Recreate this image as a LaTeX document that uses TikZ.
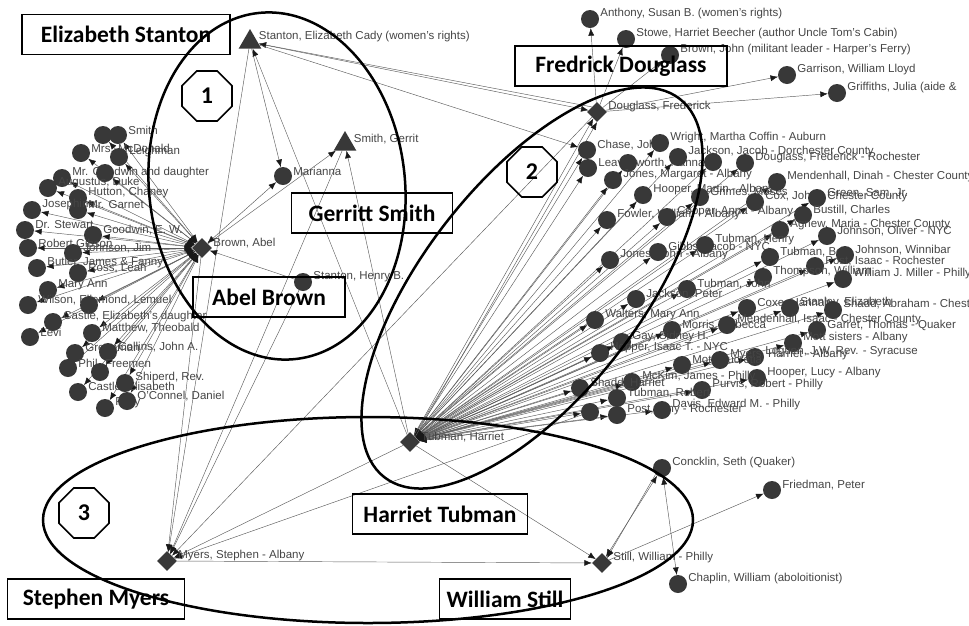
\documentclass[tikz,border=0pt]{standalone}
\usepackage{fontspec}
\setmainfont{Liberation Sans}
\newfontfamily\boxfont{Carlito}
\usetikzlibrary{shapes.geometric,arrows.meta,backgrounds}
\definecolor{nodegray}{gray}{0.22}
\definecolor{tiegray}{gray}{0.36}
\definecolor{lblgray}{gray}{0.27}
\tikzset{
  pers/.style={circle,fill=nodegray,minimum size=18pt,inner sep=0pt},
  hub/.style={diamond,fill=nodegray,minimum width=20pt,minimum height=20pt,inner sep=0pt},
  lead/.style={regular polygon,regular polygon sides=3,fill=nodegray,minimum size=26pt,inner sep=0pt},
  lbl/.style={font=\fontsize{11.5}{12}\selectfont,text=lblgray,inner sep=1pt,yshift=5pt},
  tie/.style={draw=tiegray,line width=0.45pt,-{Latex[length=7.5pt,width=6pt,color=black!90]}},
  tietwo/.style={draw=tiegray,line width=0.45pt,{Latex[length=7.5pt,width=6pt,color=black!90]}-{Latex[length=7.5pt,width=6pt,color=black!90]}},
  namebox/.style={draw,line width=1.7pt,font=\boxfont\bfseries\fontsize{23.5}{25}\selectfont,minimum height=40pt,inner sep=0pt},
  badge/.style={regular polygon,regular polygon sides=8,draw,line width=1.7pt,minimum size=54pt,inner sep=0pt,font=\boxfont\bfseries\fontsize{24}{26}\selectfont},
  ring/.style={line width=2.5pt}
}
\begin{document}
\begin{tikzpicture}[x=1pt,y=-1pt]
\useasboundingbox (0,0) rectangle (969,625);

% main people
\node[lead,label={[lbl]right:{Stanton, Elizabeth Cady (women's rights)}}] (stanton) at (250,42) {};
\node[lead,label={[lbl]right:{Smith, Gerrit}}] (smith) at (345,144) {};
\node[pers,label={[lbl]right:{Marianna}}] (marianna) at (283,176) {};
\node[hub,label={[lbl]right:{Brown, Abel}}] (brown) at (202,248) {};
\node[pers,label={[lbl]right:{Stanton, Henry B.}}] (henry) at (303,282) {};
\node[hub,label={[lbl]right:{Douglass, Frederick}}] (douglass) at (597,112) {};
\node[hub,label={[lbl]right:{Tubman, Harriet}}] (tubman) at (410,442) {};
\node[hub,label={[lbl]right:{Myers, Stephen - Albany}}] (myers) at (167,561) {};
\node[hub,label={[lbl]right:{Still, William - Philly}}] (still) at (602,563) {};
\node[pers,label={[lbl]right:{Concklin, Seth (Quaker)}}] (concklin) at (662,468) {};
\node[pers,label={[lbl]right:{Friedman, Peter}}] (friedman) at (772,490) {};
\node[pers,label={[lbl]right:{Chaplin, William (aboloitionist)}}] (chaplin) at (678,584) {};

% Douglass contacts
\foreach \n/\x/\y/\t in {d1/590/19/{Anthony, Susan B. (women's rights)},
  d2/626/39/{Stowe, Harriet Beecher (author Uncle Tom's Cabin)},
  d3/670/55/{Brown, John (militant leader - Harper's Ferry)},
  d4/787/75/{Garrison, William Lloyd},
  d5/837/93/{Griffiths, Julia (aide \&}}
  \node[pers,label={[lbl]right:{\t}}] (\n) at (\x,\y) {};

% Abel Brown contacts
\foreach \n/\x/\y/\t in {a1/103/135/{}, a2/118/135/{Smith}, a3/81/153/{Mrs. McDonald},
  a4/119/157/{Leighman}, a5/62/178/{Mr. Goodwin and daughter}, a6/105/173/{},
  a7/48/188/{Augustus, Duke}, a8/78/198/{Hutton, Chaney}, a9/78/210/{Mr. Garnet},
  a10/32/210/{Josephine}, a11/25/230/{Dr. Stewart}, a12/93/235/{Goodwin, E. W.},
  a13/28/248/{Robert Gibson}, a14/73/253/{Johnson, Jim}, a15/37/268/{Butler, James \& Fanny},
  a16/78/273/{Ross, Leah}, a17/48/290/{Mary Ann}, a18/28/305/{Wilson, Ellemond, Lemuel},
  a19/89/305/{}, a20/53/322/{Castle, Elizabeth's daughter}, a21/92/333/{Matthew, Theobald},
  a22/30/337/{Levi}, a23/75/353/{Greenman}, a24/108/352/{Collins, John A.},
  a25/68/368/{Phil. Freemen}, a26/100/372/{}, a27/78/392/{Castle, Elisabeth},
  a28/125/383/{Shiperd, Rev.}, a29/105/408/{Polly}, a30/127/401/{O'Connel, Daniel}}
  \node[pers,label={[lbl]right:{\t}}] (\n) at (\x,\y) {};

% Harriet Tubman contacts
\foreach \n/\x/\y/\t in {r1/587/150/{Chase, John}, r2/588/168/{Leavenworth, Hannah},
  r3/628/163/{}, r4/660/143/{Wright, Martha Coffin - Auburn},
  r5/678/157/{Jackson, Jacob - Dorchester County}, r6/713/162/{},
  r7/745/163/{Douglass, Frederick - Rochester}, r8/613/180/{Jones, Margaret - Albany},
  r9/643/195/{Hooper, Martin - Albany}, r10/700/197/{Grimes, Moses},
  r11/777/182/{Mendenhall, Dinah - Chester County}, r12/755/202/{Cox, John - Chester County},
  r13/817/198/{Green, Sam, Jr.}, r14/607/220/{Fowler, William - Albany},
  r15/667/217/{Cooper, Anna - Albany}, r16/803/215/{Bustill, Charles},
  r17/780/230/{Agnew, Maria - Chester County}, r18/827/236/{Johnson, Oliver - NYC},
  r19/610/260/{Jones, John - Albany}, r20/658/252/{Gibbs, Jacob - NYC},
  r21/705/245/{Tubman, Henry}, r22/770/257/{Tubman, Ben},
  r23/845/255/{Johnson, Winnibar}, r24/815/266/{Post, Isaac - Rochester},
  r25/763/277/{Thompson, William}, r26/843/279/{William J. Miller - Philly},
  r27/687/289/{Tubman, John}, r28/636/299/{Jackson, Peter},
  r29/595/320/{Walters, Mary Ann}, r30/747/308/{Coxe, Hannah},
  r31/790/308/{Stanley, Elizabeth}, r32/833/310/{Shadd, Abraham - Chester County},
  r33/672/330/{Morris, Rebecca}, r34/727/325/{Mendenhall, Isaac - Chester County},
  r35/817/330/{Garret, Thomas - Quaker}, r36/622/342/{Gay, Sidney H.},
  r37/793/343/{Mott sisters - Albany}, r38/600/353/{Hopper, Isaac T. - NYC},
  r39/755/357/{Loguen, J.W. Rev. - Syracuse}, r40/682/365/{Mott, Lucretia},
  r41/720/360/{Myers, Harriet - Albany}, r42/757/378/{Hooper, Lucy - Albany},
  r43/632/382/{McKim, James - Philly}, r44/702/390/{Purvis, Robert - Philly},
  r45/580/388/{Shadd, Harriet}, r46/617/398/{Tubman, Robert},
  r47/590/412/{}, r48/617/415/{Post, Amy - Rochester},
  r49/662/410/{Davis, Edward M. - Philly}}
  \node[pers,label={[lbl]right:{\t}}] (\n) at (\x,\y) {};

\begin{pgfonlayer}{background}
  \foreach \n in {a1,a2,a3,a4,a5,a6,a7,a8,a9,a10,a11,a12,a13,a14,a15,
    a16,a17,a18,a19,a20,a21,a22,a23,a24,a25,a26,a27,a28,a29,a30}
    \draw[tietwo] (brown) -- (\n);
  \foreach \n in {r1,r2,r3,r4,r5,r6,r7,r8,r9,r10,r11,r12,r13,r14,r15,r16,r17,
    r18,r19,r20,r21,r22,r23,r24,r25,r26,r27,r28,r29,r30,r31,r32,r33,r34,r35,
    r36,r37,r38,r39,r40,r41,r42,r43,r44,r45,r46,r47,r48,r49}
    \draw[tietwo] (tubman) -- (\n);
  \foreach \n in {d1,d2,d3,d4,d5}
    \draw[tie] (douglass) -- (\n);
  \foreach \n in {stanton,brown,smith,henry,douglass,tubman,r47}
    \draw[tie] (\n) -- (myers);
  \draw[tie] (stanton) -- (marianna);
  \draw[tie] (stanton) -- (douglass);
  \draw[tie] (douglass.north west) -- (stanton);
  \draw[tie] (stanton) -- (r1);
  \draw[tie] (tubman) -- (stanton);
  \draw[tie] (tubman) -- (smith);
  \draw[tie] (brown) -- (smith);
  \draw[tietwo] (brown) -- (marianna);
  \draw[tie] (henry) -- (brown);
  \draw[tie] (tubman) -- (douglass);
  \draw[tie] (tubman.north east) -- (douglass.south);
  \draw[tie] (myers) -- (still);
  \draw[tie] (tubman) -- (still);
  \draw[tietwo] (still) -- (concklin);
  \draw[tie] (concklin.south west) -- (still.north east);
  \draw[tietwo] (concklin) -- (chaplin);
  \draw[tie] (still) -- (friedman);
\end{pgfonlayer}

% groups
\draw[ring,rotate around={6:(277,186)}] (277,186) ellipse [x radius=128, y radius=174];
\draw[ring,rotate around={52:(532,288)}] (532,288) ellipse [x radius=240, y radius=108];
\draw[ring] (368,520) ellipse [x radius=325, y radius=103];

\node[badge] (one) at (207,96) {1};
\node[badge] (two) at (532,172) {2};
\node[badge] (three) at (84,513) {3};

\node[namebox,minimum width=208pt] (boxstanton) at (126,34.5) {Elizabeth Stanton};
\node[namebox,minimum width=212pt] (boxdouglass) at (621,66) {Fredrick Douglass};
\node[namebox,minimum width=161pt] (boxsmith) at (372,213) {Gerritt Smith};
\node[namebox,minimum width=152pt] (boxbrown) at (269,297) {Abel Brown};
\node[namebox,minimum width=175pt] (boxtubman) at (440,514) {Harriet Tubman};
\node[namebox,minimum width=131pt] (boxstill) at (505,599) {William Still};
\node[namebox,minimum width=177pt] (boxmyers) at (96,599) {Stephen Myers};
\end{tikzpicture}
\end{document}
